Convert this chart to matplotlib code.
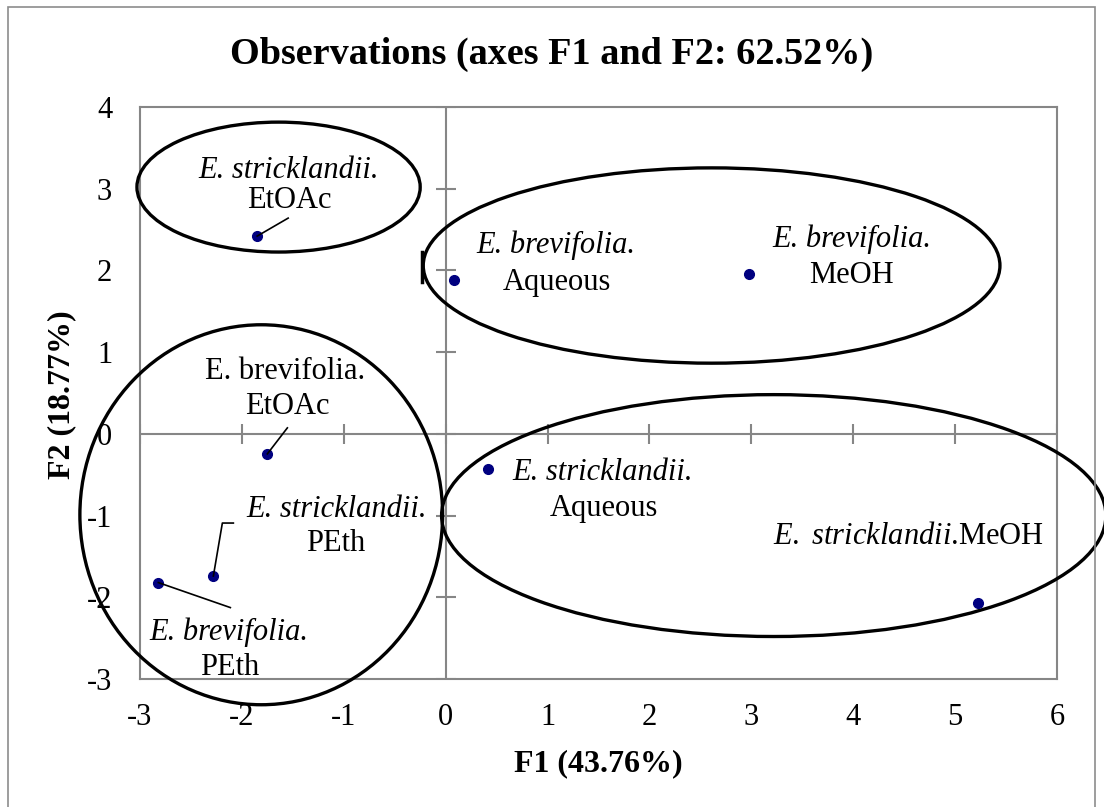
import numpy as np
import matplotlib
matplotlib.use("Agg")
from matplotlib import pyplot as plt
from matplotlib.patches import Ellipse, Rectangle
from matplotlib.lines import Line2D
from matplotlib.transforms import IdentityTransform

plt.rcParams["font.family"] = ["Liberation Serif", "DejaVu Serif"]
plt.rcParams["mathtext.fontset"] = "custom"
plt.rcParams["mathtext.rm"] = "Liberation Serif"
plt.rcParams["mathtext.it"] = "Liberation Serif:italic"

# observations (PCA scores)
species = ["E. stricklandii.", "E. brevifolia.", "E. brevifolia.", "E. brevifolia.",
           "E. stricklandii.", "E. stricklandii.", "E. brevifolia.", "E. stricklandii."]
extracts = ["EtOAc", "Aqueous", "MeOH", "EtOAc", "Aqueous", "PEth", "PEth", "MeOH"]
f1 = [-1.85, 0.08, 2.98, -1.75, 0.42, -2.28, -2.82, 5.22]
f2 = [2.42, 1.88, 1.96, -0.245, -0.43, -1.74, -1.82, -2.07]

# group ellipses: centre x, centre y, width, height (data units)
groups_cx = [-1.64, 2.61, -1.81, 3.22]
groups_cy = [3.02, 2.06, -0.99, -1.00]
groups_w = [2.78, 5.66, 3.56, 6.52]
groups_h = [1.59, 2.39, 4.65, 2.96]

W, H = 1104, 807
GRAY = "#868686"

fig = plt.figure(figsize=(W / 100, H / 100), dpi=100)
fig.patches.append(Rectangle((8 / W, -0.01), (1095 - 8) / W, 1 - 7 / H + 0.01,
                             transform=fig.transFigure, fill=False,
                             edgecolor="#8c8c8c", lw=1.2))

ax = fig.add_axes([140 / W, 1 - 679 / H, (1057 - 140) / W, (679 - 107) / H])
ax.set_xlim(-3, 6)
ax.set_ylim(-3, 4)
for s in ax.spines.values():
    s.set_color(GRAY)
    s.set_linewidth(1.5)
ax.set_xticks(range(-3, 7))
ax.set_yticks(range(-3, 5))
ax.tick_params(length=0, labelsize=22)
ax.tick_params(axis="x", pad=17)
ax.tick_params(axis="y", pad=20)
ax.set_xticklabels([str(v) for v in range(-3, 7)])
ax.set_yticklabels([str(v) for v in range(-3, 5)])

# axes through origin with crossing ticks
ax.axhline(0, color=GRAY, lw=1.5, zorder=1)
ax.axvline(0, color=GRAY, lw=1.5, zorder=1)
xt = np.arange(-3, 7)
yt = np.arange(-3, 5)
ax.plot(xt, np.zeros_like(xt), ls="none", marker="|", ms=14, mew=1.5, color=GRAY, zorder=1)
ax.plot(np.zeros_like(yt), yt, ls="none", marker="_", ms=14, mew=1.5, color=GRAY, zorder=1)

ax.plot(f1, f2, ls="none", marker="o", ms=7, color="#000080", zorder=4)

for cx, cy, w, h in zip(groups_cx, groups_cy, groups_w, groups_h):
    ax.add_patch(Ellipse((cx, cy), w, h, fill=False, edgecolor="black",
                         lw=2.4, clip_on=False, zorder=3))

# label layout: pixel offsets from each point (image y downwards)
line1_off = [(31, -66), (102, -35), (103, -34), (18, -82), (114, 4), (123, -67), (71, 50), (-69, -67)]
line2_off = [(32, -36), (103, 2), (102, 2), (20, -47), (115, 40), (122, -33), (71, 85), None]
italic = [True, True, True, False, True, True, True, True]
leaders = {0: [(0, 0), (31, -18)], 3: [(0, 0), (20, -26)],
           5: [(0, 0), (9, -53), (20, -53)], 6: [(0, 0), (72, 25)]}

fs = 22
for i in range(len(f1)):
    xy = (f1[i], f2[i])
    if line2_off[i] is None:
        txt = r"$\mathit{E.}$ $\mathit{stricklandii}$.MeOH"
        ax.annotate(txt, xy, xytext=(line1_off[i][0], -line1_off[i][1]),
                    textcoords="offset pixels", ha="center", va="center", fontsize=fs)
        continue
    ax.annotate(species[i], xy, xytext=(line1_off[i][0], -line1_off[i][1]),
                textcoords="offset pixels", ha="center", va="center", fontsize=fs,
                style="italic" if italic[i] else "normal")
    ax.annotate(extracts[i], xy, xytext=(line2_off[i][0], -line2_off[i][1]),
                textcoords="offset pixels", ha="center", va="center", fontsize=fs)

for i, pts in leaders.items():
    p = ax.transData.transform((f1[i], f2[i]))
    xs = [p[0] + dx for dx, dy in pts]
    ys = [p[1] - dy for dx, dy in pts]
    fig.add_artist(Line2D(xs, ys, transform=IdentityTransform(), color="black", lw=1.2))

# small bracket mark at left of E. brevifolia Aqueous
p = ax.transData.transform((f1[1], f2[1]))
fig.add_artist(Line2D([p[0] - 32, p[0] - 32], [p[1] + 28, p[1] - 2],
                      transform=IdentityTransform(), color="black", lw=2.5))

fig.text(0.5, 1 - 54 / H, "Observations (axes F1 and F2: 62.52%)",
         ha="center", va="center", fontsize=27.5, fontweight="bold")
fig.text(598 / W, 1 - 764 / H, "F1 (43.76%)", ha="center", va="center",
         fontsize=23, fontweight="bold")
fig.text(62 / W, 1 - 395 / H, "F2 (18.77%)", ha="center", va="center",
         fontsize=23, fontweight="bold", rotation=90)

fig.savefig("out.png", dpi=100)
